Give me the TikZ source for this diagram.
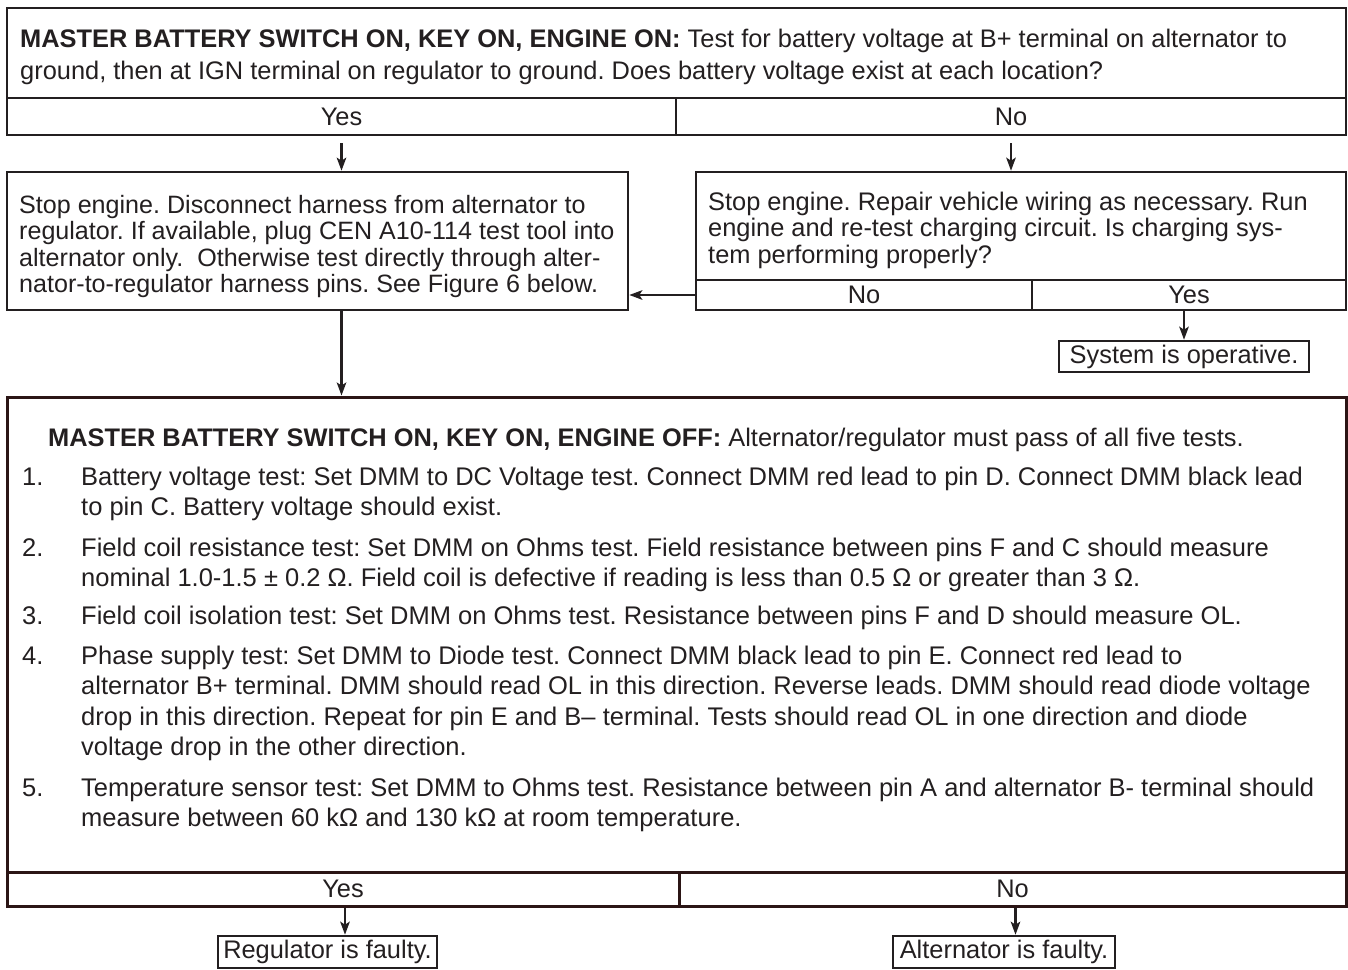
\documentclass[tikz,border=0pt]{standalone}
\usepackage{fontspec}
\setmainfont{Liberation Sans}
\usetikzlibrary{arrows.meta,fit}
\definecolor{ink}{HTML}{231F20}
\definecolor{brn}{HTML}{2B1515}
\frenchspacing
\begin{document}
\begin{tikzpicture}[x=1pt,y=-1pt,
  box/.style={draw=ink, line width=2.6pt, inner sep=0pt},
  bbox/.style={draw=brn, line width=3pt, inner sep=0pt},
  txt/.style={inner sep=0pt, align=left, anchor=base west, text=ink, font=\fontsize{25.4}{26.5}\selectfont},
  itm/.style={inner sep=0pt, align=left, anchor=base west, text=ink, font=\fontsize{25.5}{30.5}\selectfont},
  lbl/.style={text=ink, font=\fontsize{25.4}{26.5}\selectfont, inner sep=0pt},
  arr/.style={draw=ink, line width=2.2pt, -{Stealth[length=13pt,width=9.5pt,inset=3pt]}}]
\useasboundingbox (0,0) rectangle (1348,969);

% top box (multi-line nodes are anchored at the baseline of their last line)
\node[box, fit={(7,8) (1346,98)}] (q1) {};
\node[box, fit={(7,98) (676,135)}] (yes1) {};
\node[box, fit={(676,98) (1346,135)}] (no1) {};
\node[txt, font=\fontsize{25.4}{32}\selectfont] (q1t) at (20,79) {\textbf{MASTER BATTERY SWITCH ON, KEY ON, ENGINE ON:} Test for battery voltage at B+ terminal on alternator to\\ground, then at IGN terminal on regulator to ground. Does battery voltage exist at each location?};
\node[lbl] (yes1t) at (yes1.center) {Yes};
\node[lbl] (no1t) at (no1.center) {No};

% left box
\node[box, fit={(7,172) (628,310)}] (lbox) {};
\node[txt, font=\fontsize{25.1}{26.5}\selectfont] (lboxt) at (19,292.5) {Stop engine. Disconnect harness from alternator to\\regulator. If available, plug CEN A10-114 test tool into\\alternator only.\ \ Otherwise test directly through alter-\\nator-to-regulator harness pins. See Figure 6 below.};

% right box
\node[box, fit={(696,172) (1346,280)}] (rbox) {};
\node[box, fit={(696,280) (1032,310)}] (rno) {};
\node[box, fit={(1032,280) (1346,310)}] (ryes) {};
\node[txt] (rboxt) at (708,263) {Stop engine. Repair vehicle wiring as necessary. Run\\engine and re-test charging circuit. Is charging sys-\\tem performing properly?};
\node[lbl] (rnot) at (rno.center) {No};
\node[lbl] (ryest) at (ryes.center) {Yes};

\node[box, fit={(1059,341) (1309,372)}] (sys) {};
\node[lbl] (syst) at (sys.center) {System is operative.};

% big box
\node[bbox, fit={(7,397) (1346,872)}] (big) {};
\node[bbox, fit={(7,872) (679,906)}] (byes) {};
\node[bbox, fit={(679,872) (1346,906)}] (bno) {};
\node[txt] (head) at (48,446) {\textbf{MASTER BATTERY SWITCH ON, KEY ON, ENGINE OFF:} Alternator/regulator must pass of all five tests.};
\node[itm] (n1) at (22,485) {1.};
\node[itm] (i1) at (81,515.5) {Battery voltage test: Set DMM to DC Voltage test. Connect DMM red lead to pin D. Connect DMM black lead\\to pin C. Battery voltage should exist.};
\node[itm] (n2) at (22,556) {2.};
\node[itm] (i2) at (81,586.5) {Field coil resistance test: Set DMM on Ohms test. Field resistance between pins F and C should measure\\nominal 1.0-1.5 ± 0.2 Ω. Field coil is defective if reading is less than 0.5 Ω or greater than 3 Ω.};
\node[itm] (n3) at (22,624) {3.};
\node[itm] (i3) at (81,624) {Field coil isolation test: Set DMM on Ohms test. Resistance between pins F and D should measure OL.};
\node[itm] (n4) at (22,664) {4.};
\node[itm] (i4) at (81,755.5) {Phase supply test: Set DMM to Diode test. Connect DMM black lead to pin E. Connect red lead to\\alternator B+ terminal. DMM should read OL in this direction. Reverse leads. DMM should read diode voltage\\drop in this direction. Repeat for pin E and B-- terminal. Tests should read OL in one direction and diode\\voltage drop in the other direction.};
\node[itm] (n5) at (22,796) {5.};
\node[itm] (i5) at (81,826.5) {Temperature sensor test: Set DMM to Ohms test. Resistance between pin A and alternator B- terminal should\\measure between 60 kΩ and 130 kΩ at room temperature.};
\node[lbl] (byest) at (byes.center) {Yes};
\node[lbl] (bnot) at (bno.center) {No};

\node[box, fit={(218,936) (437,968)}] (reg) {};
\node[lbl] (regt) at (reg.center) {Regulator is faulty.};
\node[box, fit={(893,936) (1115,968)}] (alt) {};
\node[lbl] (altt) at (alt.center) {Alternator is faulty.};

% connectors
\draw[arr] ([yshift=-7pt]yes1.south) -- (yes1.south |- lbox.north);
\draw[arr] ([yshift=-7pt]no1.south) -- (no1.south |- rbox.north);
\draw[arr] (rno.west) -- (rno.west -| lbox.east);
\draw[arr] (sys.north |- ryes.south) -- (sys.north);
\draw[arr] (yes1.south |- lbox.south) -- (yes1.south |- big.north);
\draw[arr] ([xshift=2pt]byes.south) -- ([xshift=2pt]byes.south |- reg.north);
\draw[arr] ([xshift=3pt]bno.south) -- ([xshift=3pt]bno.south |- alt.north);
\end{tikzpicture}
\end{document}
